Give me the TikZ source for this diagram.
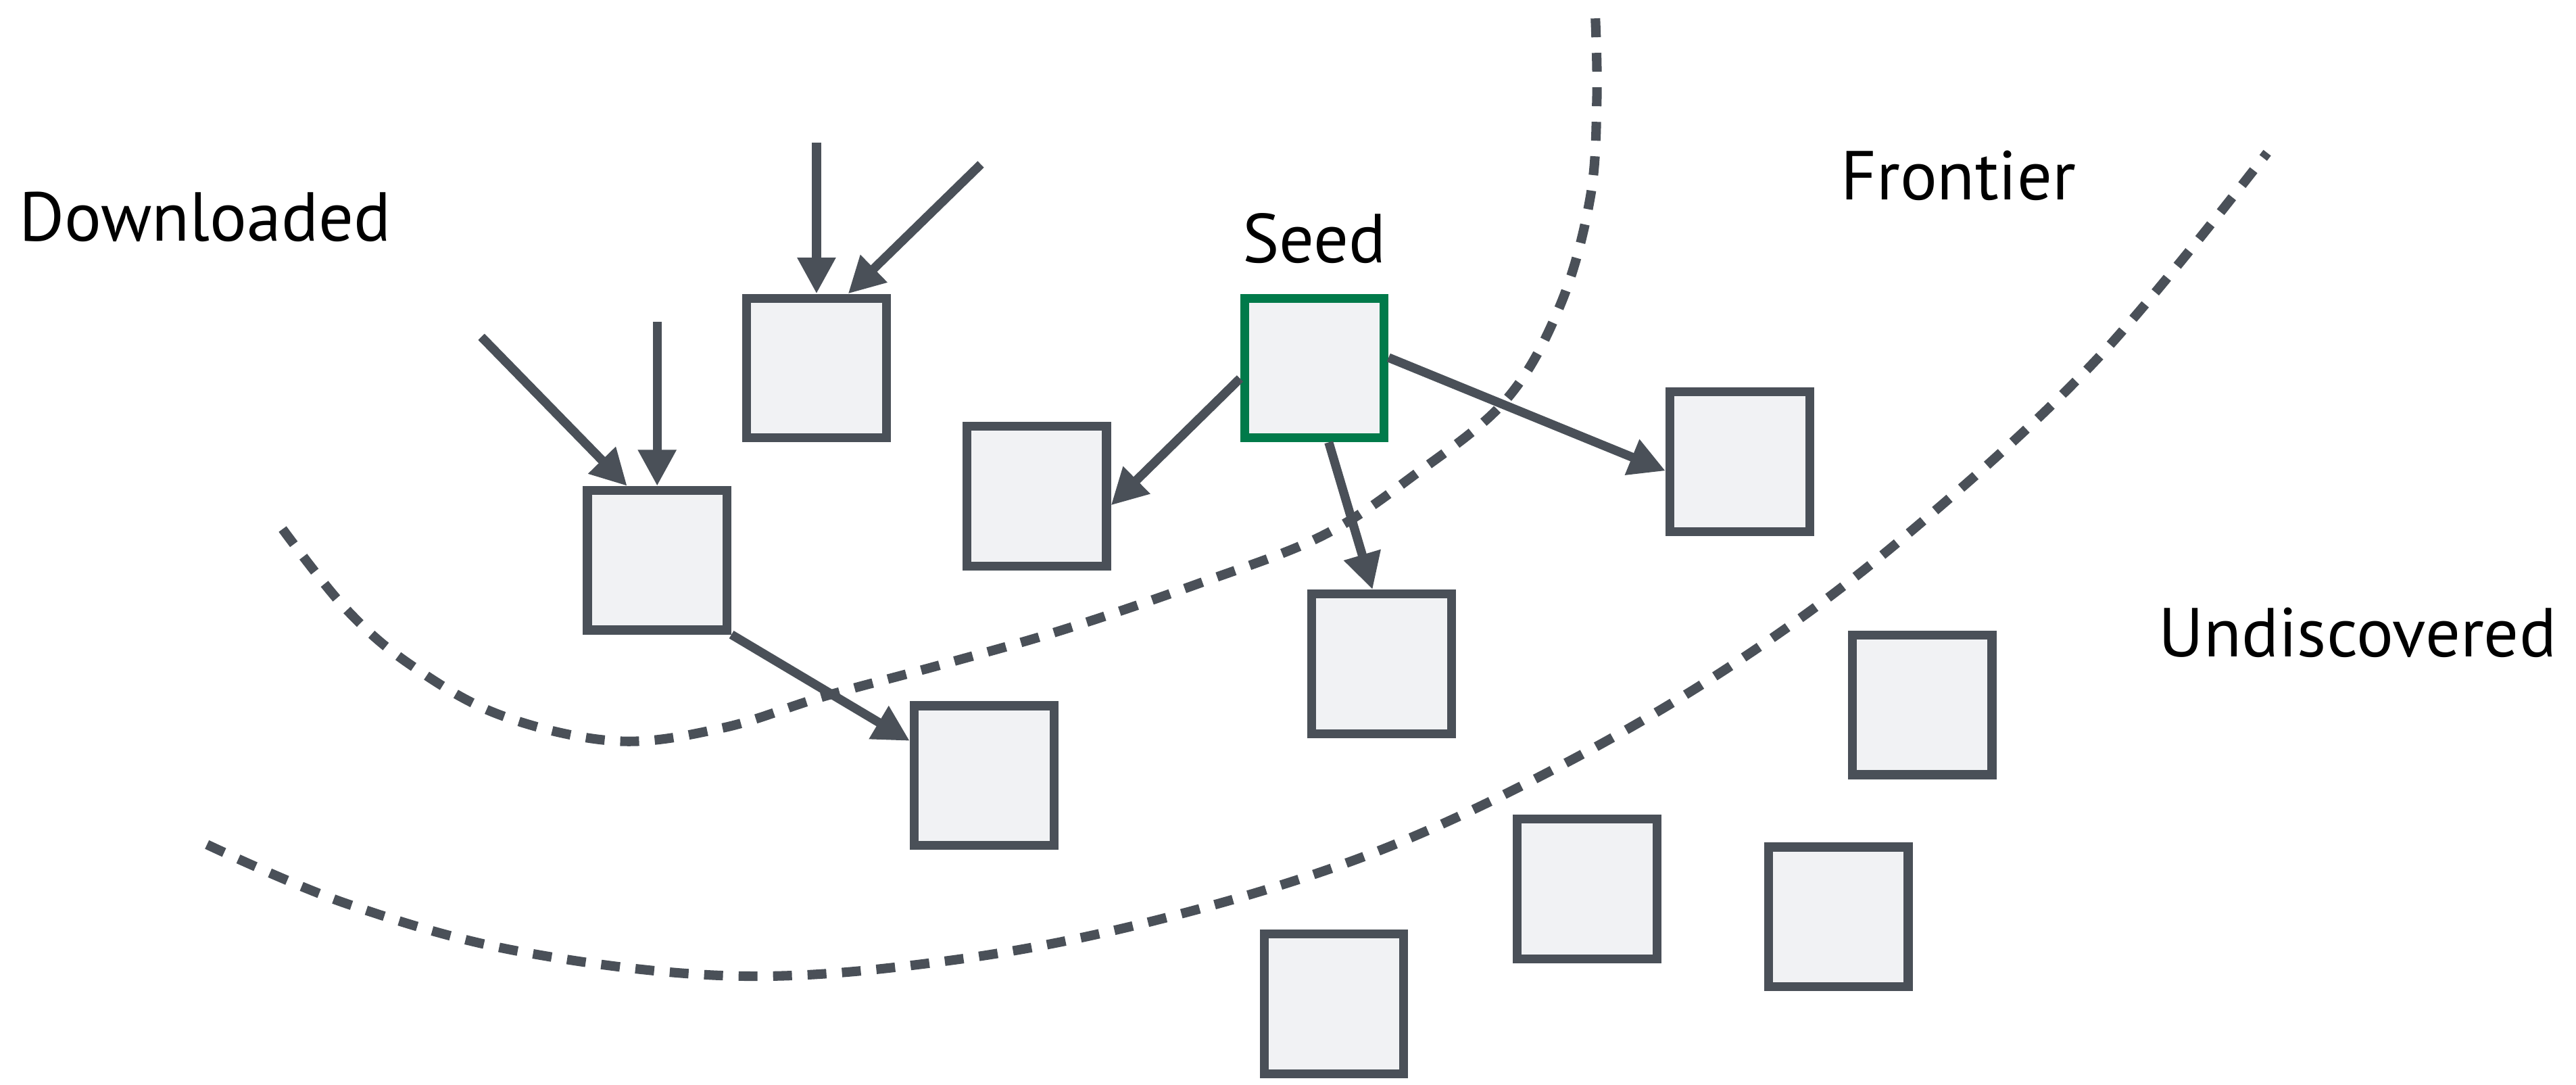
\documentclass[tikz,border=0pt]{standalone}
\usepackage{fontspec}
\setmainfont{PT Sans}
\usetikzlibrary{arrows.meta}
\usetikzlibrary{positioning}

\definecolor{linegray}{HTML}{4A5058}
\definecolor{pagefill}{HTML}{F1F2F4}
\definecolor{seedgreen}{HTML}{007A4A}

\tikzset{
  page/.style={draw=linegray, fill=pagefill, line width=3.1pt, minimum size=1.7cm, inner sep=0pt},
  link/.style={draw=linegray, line width=3.1pt, -{Triangle[length=0.44cm,width=0.44cm]}},
  boundary/.style={draw=linegray, line width=3.3pt, dash pattern=on 0.23cm off 0.19cm},
  region/.style={font=\fontsize{24}{28}\selectfont}
}

\begin{document}
\begin{tikzpicture}[x=0.02cm, y=-0.02cm]
  \useasboundingbox (0,0) rectangle (1568,660);

  % crawl boundaries
  \draw[boundary] plot[smooth, tension=0.6] coordinates {(172,322) (210,370) (249,404) (304,435) (375,451) (440,443) (501,424) (575,404) (648,383) (730,355) (805,326) (861,289) (917,243) (950,185) (968,120) (972,60) (971,9)};
  \draw[boundary] plot[smooth, tension=0.6] coordinates {(126,514) (211,550) (316,579) (448,594) (575,585) (700,561) (831,521) (950,466) (1060,401) (1160,326) (1276,219) (1380,93)};

  % labels
  \node[region] (downloaded) at (125,132) {Downloaded};
  \node[region] (frontier) at (1192,107) {Frontier};
  \node[region] (undiscovered) at (1435,385) {Undiscovered};
  \node[region] (seedlabel) at (800,145) {Seed};

  % pages
  \node[page] (d1) at (400,341) {};
  \node[page] (d2) at (497,224) {};
  \node[page] (d3) at (631,302) {};
  \node[page, draw=seedgreen] (seed) at (800,224) {};
  \node[page] (f1) at (599,472) {};
  \node[page] (f2) at (841,404) {};
  \node[page] (f3) at (1059,281) {};
  \node[page] (u1) at (812,611) {};
  \node[page] (u2) at (966,541) {};
  \node[page] (u3) at (1119,558) {};
  \node[page] (u4) at (1170,429) {};

  % incoming links
  \coordinate (in1) at (293,205);
  \coordinate (in2) at (400,196);
  \coordinate (in3) at (497,87);
  \coordinate (in4) at (597,100);

  \draw
  (in1) edge[link] (d1.112)
  (in2) edge[link] (d1.north)
  (in3) edge[link] (d2.north)
  (in4) edge[link] (d2.67)
  (d1.south east) edge[link] (f1.155)
  (seed.188) edge[link] (d3.353)
  (seed.281) edge[link] (f2.97)
  (seed.8) edge[link] (f3.187);
\end{tikzpicture}
\end{document}
